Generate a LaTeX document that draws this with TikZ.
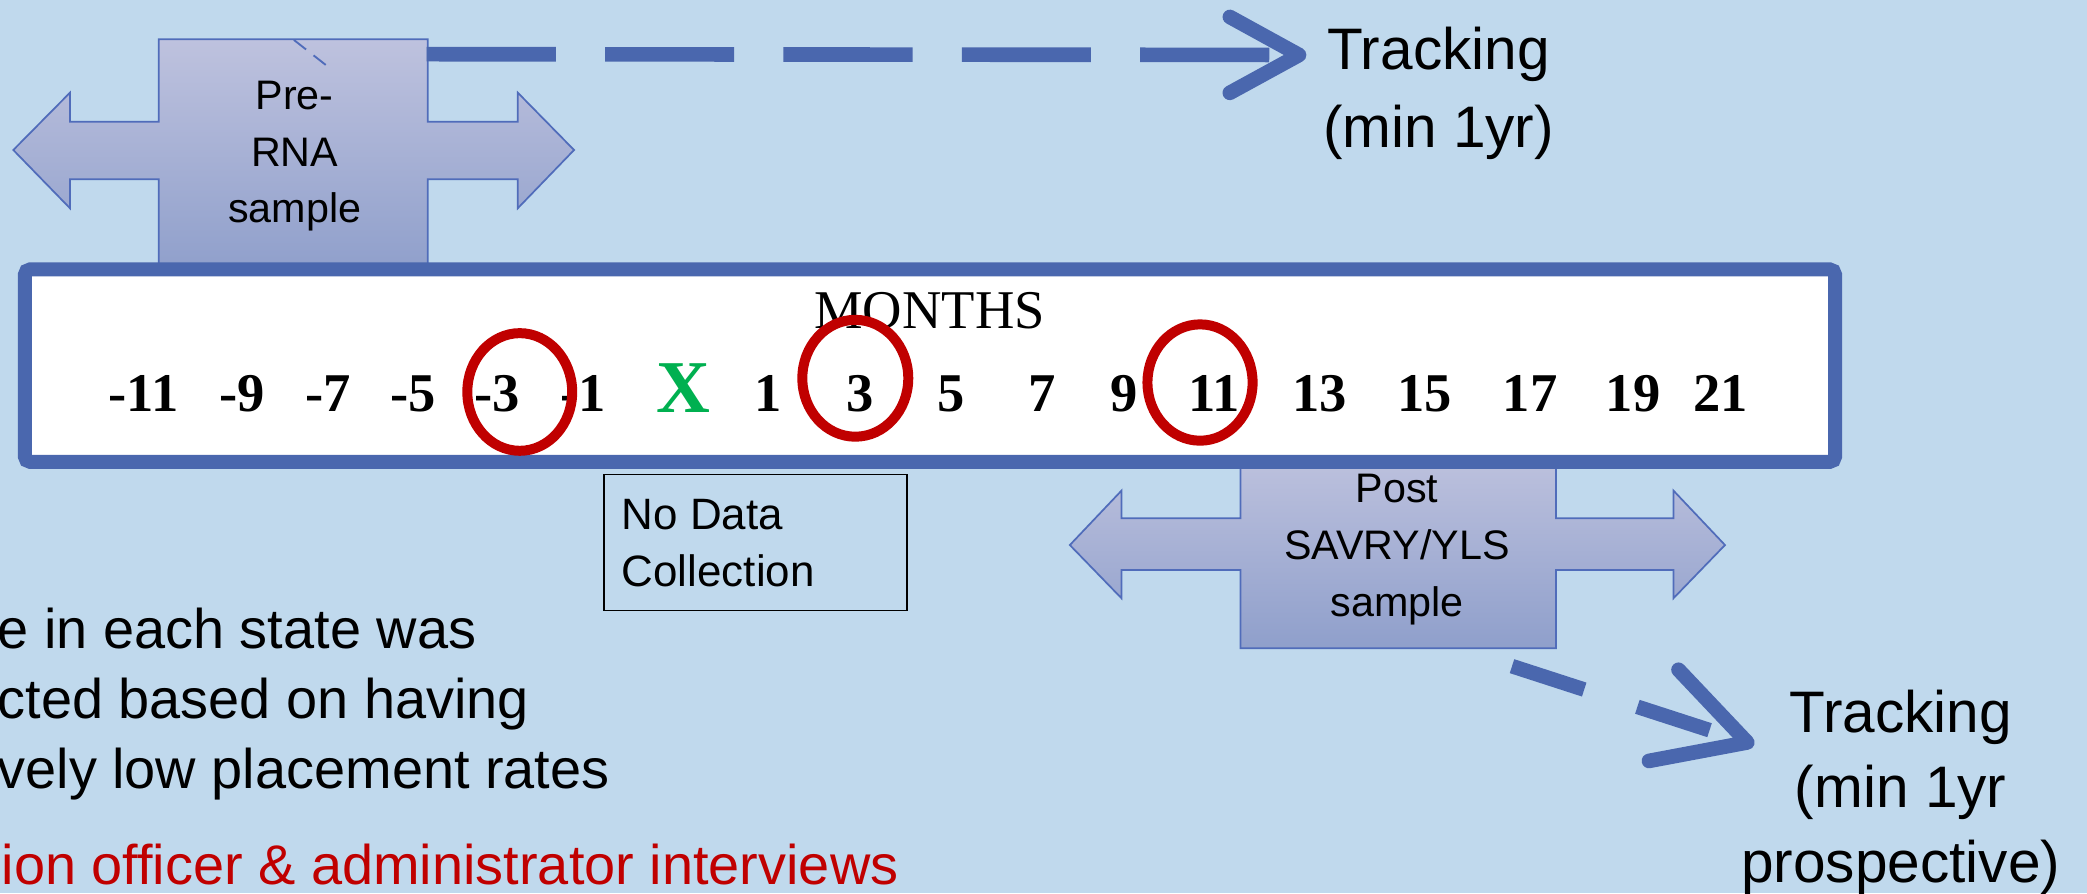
\documentclass[tikz,border=0pt]{standalone}
\usepackage{fontspec}
\setmainfont{Liberation Sans}
\newfontfamily\monthfont{Liberation Serif}
\usetikzlibrary{arrows.meta}
\definecolor{pagebg}{RGB}{192,217,237}
\definecolor{bandblue}{RGB}{74,103,174}
\definecolor{shapeedge}{RGB}{80,108,186}
\definecolor{shapetop}{RGB}{190,194,222}
\definecolor{shapebot}{RGB}{143,159,203}
\definecolor{ringred}{RGB}{192,0,0}
\definecolor{markgreen}{RGB}{0,176,80}
\newcommand{\setfs}[2]{\fontsize{#1}{#2}\selectfont}

\begin{document}
\begin{tikzpicture}[x=1pt, y=-1pt,
  samplearrow/.style={top color=shapetop, bottom color=shapebot, draw=shapeedge, line width=1.3pt, line join=miter},
  boxlabel/.style={align=center, inner sep=0pt, font=\setfs{31}{42.6}},
  monthnum/.style={anchor=base, inner sep=0pt, font=\monthfont\bfseries\setfs{41}{41}},
  ring/.style={draw=ringred, line width=7.5pt},
  bigtext/.style={inner sep=0pt, align=center, font=\setfs{44}{58}},
  notetext/.style={inner sep=0pt, font=\setfs{42}{52.7}},
  trackflow/.style={draw=bandblue, line width=11pt},
]
\useasboundingbox (0,0) rectangle (1568,671);
\fill[pagebg] (0,0) rectangle (1568,671);
\clip (0,0) rectangle (1568,671);

% pre-sample double arrow
\path[samplearrow] (119.3,29.5) -- (321.4,29.5) -- (321.4,91.4) -- (389,91.4) -- (389,69.6)
  -- (431.3,112.7) -- (389,156.5) -- (389,134.7) -- (321.4,134.7) -- (321.4,205)
  -- (119.3,205) -- (119.3,134.7) -- (52.6,134.7) -- (52.6,156.5) -- (10,112.7)
  -- (52.6,69.6) -- (52.6,91.4) -- (119.3,91.4) -- cycle;
\draw[shapeedge, line width=1.4pt, dash pattern=on 11.6pt off 7.2pt] (220.8,30) -- (249.6,52.6);
\node (prelabel) [boxlabel] at (221.4,117.3) {Pre-\\RNA\\sample};

% post-sample double arrow
\path[samplearrow] (932,340) -- (1169,340) -- (1169,389.4) -- (1257.3,389.4) -- (1257.3,368.6)
  -- (1296,409.5) -- (1257.3,449.5) -- (1257.3,428.2) -- (1169,428.2) -- (1169,487)
  -- (932,487) -- (932,428.2) -- (842.6,428.2) -- (842.6,449.5) -- (803.8,409.5)
  -- (842.6,368.6) -- (842.6,389.4) -- (932,389.4) -- cycle;

% timeline band
\draw[draw=bandblue, fill=white, line width=10.5pt, rounded corners=4pt] (18.7,202.4) rectangle (1378.7,347);
\node (postlabel) [boxlabel] at (1049.7,412.8) {Post\\SAVRY/YLS\\sample};

\node (months) [anchor=base, inner sep=0pt, font=\monthfont\setfs{41}{41}] at (698.4,247) {MONTHS};
\foreach \v/\x in {-11/107.8, -9/182, -7/246.8, -5/310.5, -3/373.7, -1/438, 1/577, 3/646,
                   5/714.9, 7/783, 9/844.6, 11/912, 13/991.7, 15/1070.5, 17/1149.5, 19/1227, 21/1293}
  \node[monthnum] (m\v) at (\x,309) {\v};
\node (xmark) [anchor=base, inner sep=0pt, text=markgreen, font=\monthfont\bfseries\setfs{56}{56}] at (513.7,310) {X};

% highlighted months
\draw[ring] (390.5,294.5) ellipse [x radius=39.4, y radius=44.2];
\draw[ring] (642.6,284.2) ellipse [x radius=39.8, y radius=43.9];
\draw[ring] (901.6,287.4) ellipse [x radius=39.5, y radius=43.7];

% tracking arrows
\coordinate (preout) at (320.6,40.7);
\coordinate (tipA) at (981.5,41.3);
\draw[trackflow, dash pattern=on 97pt off 37pt, -{Straight Barb[round, length=52pt, width=57pt]}] (preout) -- (tipA);
\node (trackA) [bigtext] at (1080.8,70.2) {Tracking\\(min 1yr)};

\coordinate (postout) at (1136,500.5);
\coordinate (tipB) at (1318,559.5);
\draw[trackflow, dash pattern=on 57pt off 42pt, -{Straight Barb[round, length=66pt, width=72pt]}] (postout) -- (tipB);
\node (trackB) [bigtext, font=\setfs{44}{56.5}] at (1428,595.1) {Tracking\\(min 1yr\\prospective)};

% no-collection window
\node (nodata) [draw=black, line width=1.2pt, minimum width=228pt, minimum height=102pt, anchor=north west, inner sep=0pt] at (453,356) {};
\node (nodatatext) [align=left, anchor=west, inner sep=0pt, font=\setfs{33}{42.6}] at (467,407.9) {No Data\\Collection};

% notes
\node (selection) [notetext, align=left, anchor=west] at (-2,528.8) {e in each state was\\cted based on having\\vely low placement rates};
\node (interviews) [anchor=base west, inner sep=0pt, text=ringred, font=\setfs{42}{42}] at (1,664.9) {ion officer \& administrator interviews};
\end{tikzpicture}
\end{document}
